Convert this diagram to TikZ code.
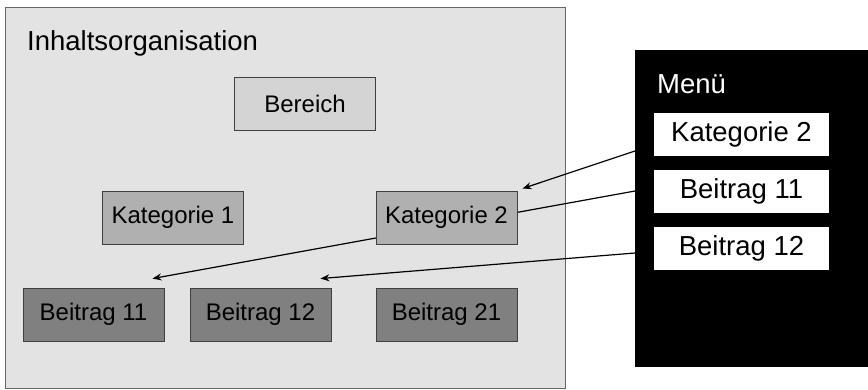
\documentclass[tikz,border=0pt]{standalone}
\usepackage{fontspec}
\setmainfont{Liberation Sans}
\usetikzlibrary{arrows.meta,calc}
\pgfdeclarelayer{back}
\pgfdeclarelayer{links}
\pgfsetlayers{back,links,main}
\definecolor{panelgray}{HTML}{E3E3E3}
\definecolor{areagray}{HTML}{D4D4D4}
\definecolor{catgray}{HTML}{B0B0B0}
\definecolor{postgray}{HTML}{808080}
\definecolor{edgegray}{HTML}{404040}
\begin{document}
\begin{tikzpicture}[x=1pt,y=-1pt,
  box/.style={draw=edgegray,line width=0.9pt,minimum width=141pt,minimum height=53pt,inner sep=0pt,
    font=\fontsize{24}{28}\selectfont},
  areabox/.style={box,fill=areagray},
  catbox/.style={box,fill=catgray},
  postbox/.style={box,fill=postgray},
  menuitem/.style={fill=white,minimum width=175pt,minimum height=43pt,inner sep=0pt,
    font=\fontsize{27.5}{30}\selectfont},
  link/.style={line width=1.2pt,black},
  tip/.style={-{Stealth[length=9pt,width=7pt]}}]
\useasboundingbox (0,0) rectangle (868,389);

% content organisation panel
\begin{pgfonlayer}{back}
  \fill[panelgray,draw=gray!80!black,line width=1pt] (5,7) rectangle (565,388);
  \fill[black] (635,50) rectangle (870,367);
\end{pgfonlayer}
\node[anchor=base west,font=\fontsize{27.5}{30}\selectfont,inner sep=0pt] (title) at (27,50) {Inhaltsorganisation};

\node[areabox] (bereich) at (305,103.5) {Bereich};
\node[catbox] (kat1) at (173,217.5) {Kategorie 1};
\node[catbox] (kat2) at (446.5,217.5) {Kategorie 2};
\node[postbox] (b11) at (93.5,314.5) {Beitrag 11};
\node[postbox] (b12) at (260.5,314.5) {Beitrag 12};
\node[postbox] (b21) at (446.5,314.5) {Beitrag 21};

% menu
\node[anchor=base west,white,font=\fontsize{27.5}{30}\selectfont,inner sep=0pt] (menu) at (657,93) {Menü};
\node[menuitem] (mk2) at (741.5,134.5) {Kategorie 2};
\node[menuitem] (mb11) at (741.5,191) {Beitrag 11};
\node[menuitem] (mb12) at (741.5,248) {Beitrag 12};

% link start points on the menu's left edge
\coordinate (s1) at (635,151);
\coordinate (s2) at (635,191);
\coordinate (s3) at (635,253);
% arrow tips next to the target boxes
\coordinate (t1) at ($(kat2.north east)+(5,-2)$);
\coordinate (t2) at ($(b11.north east)+(-12,-9)$);
\coordinate (t3) at ($(b12.north east)+(-11,-9)$);

\begin{pgfonlayer}{links}
  \draw[link,tip] (s1) -- (t1);
  \draw[link,tip] (s2) -- (t2);
  \draw[link,tip] (s3) -- (t3);
\end{pgfonlayer}
\end{tikzpicture}
\end{document}
